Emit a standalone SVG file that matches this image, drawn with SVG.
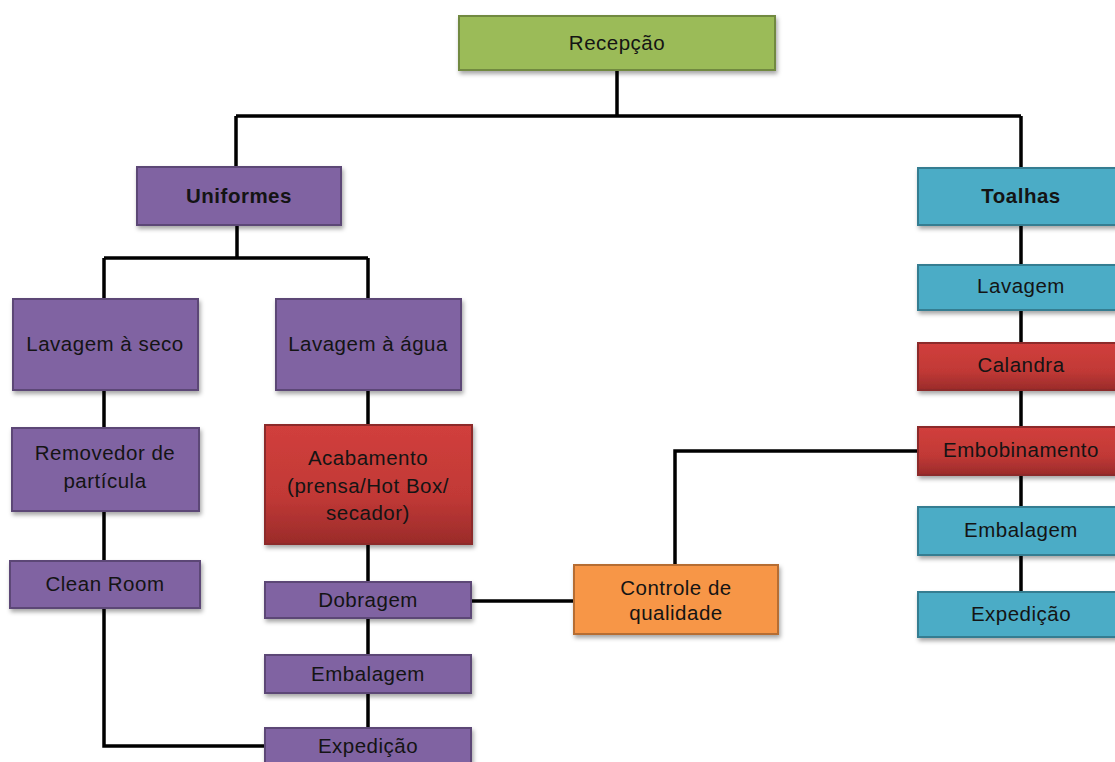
<svg xmlns="http://www.w3.org/2000/svg" width="1115" height="762" viewBox="0 0 1115 762">
<defs>
<filter id="sh" x="-10%" y="-20%" width="130%" height="160%">
<feDropShadow dx="1.5" dy="3" stdDeviation="2" flood-color="#000" flood-opacity="0.35"/>
</filter>
<linearGradient id="red" x1="0" y1="0" x2="0" y2="1">
<stop offset="0" stop-color="#d13f3c"/>
<stop offset="0.6" stop-color="#c13936"/>
<stop offset="1" stop-color="#9a2b2a"/>
</linearGradient>
</defs>
<style>
.n rect{stroke-width:2;filter:url(#sh)}
.g rect{fill:#9bbb59;stroke:#71893f}
.p rect{fill:#8064a2;stroke:#5c4776}
.b rect{fill:#4bacc6;stroke:#357d91}
.r rect{fill:url(#red);stroke:#8c2b29}
.o rect{fill:#f79646;stroke:#b66d31}
text{font-family:"Liberation Sans",Arial,sans-serif;font-size:20.5px;letter-spacing:0.5px;fill:#141414;text-anchor:middle}
.bd{font-weight:bold}
.c{fill:none;stroke:#000;stroke-width:3.5}
</style>
<rect width="1115" height="762" fill="#fff"/>
<g id="connectors" class="c">
<path d="M617 70V116M236 116H1021M236 116V168M1021 116V168"/>
<path d="M237 225V258M104 258H368M104 258V299M368 258V299"/>
<path d="M104 390V428M104 511V561M104 608V746H266"/>
<path d="M368 390V425M368 544V582M368 618V655M368 693V728"/>
<path d="M471 601H574"/>
<path d="M675 565V451H918"/>
<path d="M1021 225V265M1021 310V343M1021 390V427M1021 475V507M1021 555V592"/>
</g>
<g id="recepcao" class="n g"><rect x="459" y="16" width="316" height="54"/><text x="617" y="50">Recepção</text></g>
<g id="uniformes" class="n p"><rect x="137" y="167" width="204" height="58"/><text class="bd" x="239" y="203">Uniformes</text></g>
<g id="toalhas" class="n b"><rect x="918" y="168" width="210" height="57"/><text class="bd" x="1021" y="203">Toalhas</text></g>
<g id="lav-seco" class="n p"><rect x="13" y="299" width="185" height="91"/><text x="105" y="351">Lavagem à seco</text></g>
<g id="lav-agua" class="n p"><rect x="276" y="299" width="185" height="91"/><text x="368" y="351">Lavagem à água</text></g>
<g id="removedor" class="n p"><rect x="12" y="428" width="187" height="83"/><text x="105" y="460">Removedor de</text><text x="105" y="488">partícula</text></g>
<g id="cleanroom" class="n p"><rect x="10" y="561" width="190" height="47"/><text x="105" y="591">Clean Room</text></g>
<g id="acabamento" class="n r"><rect x="265" y="425" width="207" height="119"/><text x="368" y="465">Acabamento</text><text x="368" y="493">(prensa/Hot Box/</text><text x="368" y="520">secador)</text></g>
<g id="dobragem" class="n p"><rect x="265" y="582" width="206" height="36"/><text x="368" y="607">Dobragem</text></g>
<g id="embalagem-u" class="n p"><rect x="265" y="655" width="206" height="38"/><text x="368" y="681">Embalagem</text></g>
<g id="expedicao-u" class="n p"><rect x="265" y="728" width="206" height="42"/><text x="368" y="753">Expedição</text></g>
<g id="controle" class="n o"><rect x="574" y="565" width="204" height="69"/><text x="676" y="595">Controle de</text><text x="676" y="620">qualidade</text></g>
<g id="lavagem-t" class="n b"><rect x="918" y="265" width="210" height="45"/><text x="1021" y="293">Lavagem</text></g>
<g id="calandra" class="n r"><rect x="918" y="343" width="210" height="47"/><text x="1021" y="372">Calandra</text></g>
<g id="embobinamento" class="n r"><rect x="918" y="427" width="210" height="48"/><text x="1021" y="457">Embobinamento</text></g>
<g id="embalagem-t" class="n b"><rect x="918" y="507" width="210" height="48"/><text x="1021" y="537">Embalagem</text></g>
<g id="expedicao-t" class="n b"><rect x="918" y="592" width="210" height="45"/><text x="1021" y="621">Expedição</text></g>
</svg>
